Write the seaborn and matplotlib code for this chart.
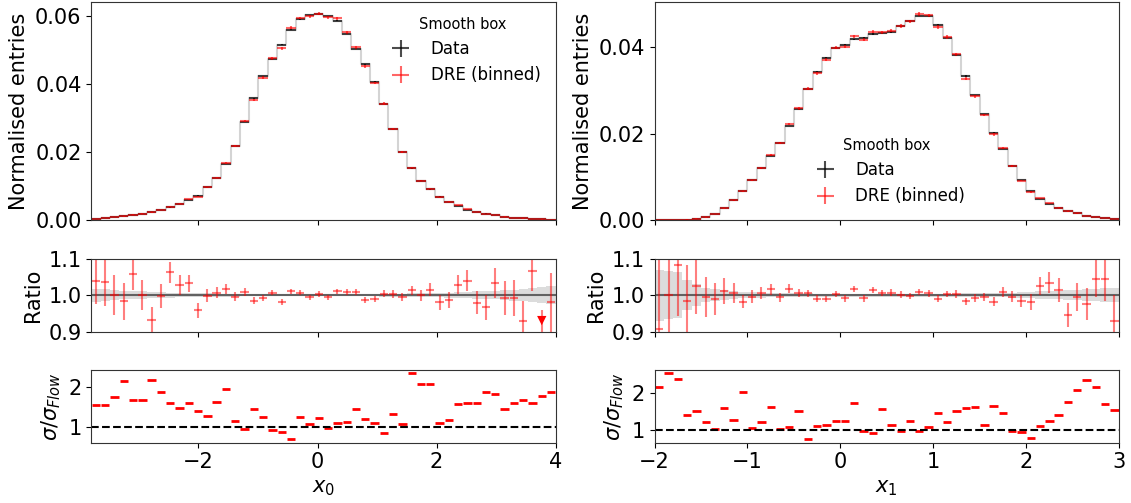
import numpy as np
import matplotlib
matplotlib.use("Agg")
import matplotlib.pyplot as plt
import seaborn as sns

# ----------------------------
# binning (50 bins per variable)
# ----------------------------
x0_range = (-3.8, 4.0)
x1_range = (-2.0, 3.0)
n_bins = 50

# ----------------------------
# x0 : normalised histogram, ratio DRE/data, sigma ratio
# ----------------------------
x0_data = [0.0004, 0.0006, 0.0009, 0.0012, 0.0016, 0.0020, 0.0025, 0.0031, 0.0038, 0.0047,
           0.0060, 0.0073, 0.0097, 0.0125, 0.0166, 0.0219, 0.0289, 0.0359, 0.0423, 0.0473,
           0.0516, 0.0560, 0.0591, 0.0603, 0.0606, 0.0600, 0.0587, 0.0548, 0.0504, 0.0459,
           0.0408, 0.0342, 0.0268, 0.0201, 0.0153, 0.0117, 0.0091, 0.0070, 0.0055, 0.0043,
           0.0031, 0.0025, 0.0020, 0.0015, 0.0011, 0.0008, 0.0006, 0.0004, 0.0003, 0.0002]
x0_data_relerr = [0.018, 0.016, 0.014, 0.012, 0.011, 0.010, 0.009, 0.008, 0.007, 0.006,
                  0.006, 0.005, 0.005, 0.004, 0.004, 0.004, 0.003, 0.003, 0.003, 0.003,
                  0.003, 0.003, 0.003, 0.003, 0.003, 0.003, 0.003, 0.003, 0.003, 0.003,
                  0.003, 0.004, 0.004, 0.004, 0.005, 0.005, 0.006, 0.006, 0.007, 0.008,
                  0.009, 0.010, 0.011, 0.012, 0.014, 0.015, 0.017, 0.019, 0.021, 0.024]
x0_ratio = [1.040, 1.035, 1.001, 0.983, 1.057, 1.000, 0.932, 0.997, 1.062, 1.028,
            1.032, 0.958, 0.998, 1.007, 1.017, 0.996, 1.009, 0.985, 0.992, 1.007,
            0.981, 1.011, 1.006, 0.994, 1.003, 0.994, 1.011, 1.008, 1.009, 0.987,
            0.989, 1.004, 1.002, 0.995, 1.013, 1.000, 1.015, 0.980, 0.987, 1.029,
            1.040, 0.979, 0.966, 1.033, 0.992, 0.992, 0.928, 1.066, 0.880, 0.980]
x0_ratio_err = [0.064, 0.066, 0.055, 0.050, 0.042, 0.041, 0.035, 0.033, 0.030, 0.028,
                0.024, 0.020, 0.018, 0.016, 0.014, 0.012, 0.011, 0.010, 0.009, 0.008,
                0.008, 0.007, 0.007, 0.007, 0.007, 0.007, 0.007, 0.008, 0.008, 0.009,
                0.009, 0.010, 0.011, 0.012, 0.013, 0.015, 0.017, 0.020, 0.022, 0.025,
                0.030, 0.032, 0.033, 0.041, 0.046, 0.050, 0.055, 0.055, 0.080, 0.080]
x0_sigma = [1.54, 1.55, 1.74, 2.15, 1.67, 1.66, 2.17, 1.86, 1.60, 1.47,
            1.59, 1.40, 1.28, 1.61, 1.94, 1.14, 0.94, 1.45, 1.24, 0.92,
            0.88, 0.69, 1.24, 1.07, 1.22, 0.97, 1.10, 1.12, 1.45, 1.20,
            1.11, 0.86, 1.31, 1.07, 2.34, 2.07, 2.07, 1.09, 1.18, 1.57,
            1.60, 1.60, 1.88, 1.82, 1.44, 1.60, 1.67, 1.60, 1.78, 1.88]

# ----------------------------
# x1
# ----------------------------
x1_data = [0.0001, 0.0001, 0.0001, 0.0002, 0.0004, 0.0007, 0.0015, 0.0028, 0.0046, 0.0068,
           0.0093, 0.0120, 0.0149, 0.0179, 0.0218, 0.0257, 0.0303, 0.0343, 0.0375, 0.0398,
           0.0405, 0.0418, 0.0421, 0.0430, 0.0432, 0.0435, 0.0448, 0.0461, 0.0473, 0.0471,
           0.0451, 0.0422, 0.0382, 0.0333, 0.0289, 0.0245, 0.0202, 0.0166, 0.0126, 0.0093,
           0.0067, 0.0050, 0.0038, 0.0029, 0.0022, 0.0016, 0.0011, 0.0008, 0.0005, 0.0004]
x1_data_relerr = [0.070, 0.066, 0.062, 0.042, 0.030, 0.020, 0.016, 0.013, 0.011, 0.009,
                  0.008, 0.007, 0.006, 0.006, 0.005, 0.005, 0.005, 0.004, 0.004, 0.004,
                  0.004, 0.004, 0.004, 0.004, 0.004, 0.004, 0.004, 0.004, 0.004, 0.004,
                  0.004, 0.004, 0.004, 0.005, 0.005, 0.005, 0.006, 0.006, 0.007, 0.008,
                  0.009, 0.010, 0.011, 0.012, 0.013, 0.014, 0.016, 0.017, 0.019, 0.020]
x1_ratio = [0.907, 1.000, 1.082, 0.983, 1.024, 0.994, 0.989, 1.011, 1.005, 0.982,
            0.995, 1.005, 1.016, 0.994, 1.018, 1.006, 1.005, 0.990, 0.989, 1.003,
            0.991, 1.017, 0.991, 1.014, 1.006, 1.007, 1.001, 0.997, 1.008, 1.005,
            0.990, 1.003, 1.003, 0.983, 0.993, 0.995, 0.982, 1.009, 0.995, 0.983,
            0.980, 1.024, 1.034, 1.014, 0.945, 0.995, 0.976, 1.045, 1.043, 0.929]
x1_ratio_err = [0.200, 0.160, 0.140, 0.100, 0.077, 0.055, 0.045, 0.035, 0.027, 0.018,
                0.018, 0.016, 0.015, 0.013, 0.012, 0.011, 0.010, 0.010, 0.009, 0.009,
                0.009, 0.009, 0.009, 0.009, 0.009, 0.009, 0.009, 0.009, 0.009, 0.009,
                0.009, 0.009, 0.010, 0.010, 0.011, 0.011, 0.012, 0.013, 0.015, 0.017,
                0.022, 0.025, 0.028, 0.032, 0.033, 0.039, 0.044, 0.050, 0.059, 0.070]
x1_sigma = [2.19, 2.56, 2.39, 1.40, 1.50, 1.20, 1.02, 1.59, 1.27, 2.03,
            1.05, 1.20, 1.62, 1.03, 1.08, 1.50, 0.73, 1.09, 1.12, 1.25,
            1.23, 1.73, 0.97, 0.91, 1.58, 1.14, 0.95, 1.23, 0.97, 1.08,
            1.46, 1.20, 1.52, 1.60, 1.63, 1.14, 1.64, 1.45, 0.95, 0.92,
            0.78, 1.09, 1.24, 1.41, 1.77, 2.10, 2.37, 2.18, 1.71, 1.53]

variables = [
    ("$x_0$", x0_range, x0_data, x0_data_relerr, x0_ratio, x0_ratio_err, x0_sigma,
     [-2, 0, 2, 4], "upper right"),
    ("$x_1$", x1_range, x1_data, x1_data_relerr, x1_ratio, x1_ratio_err, x1_sigma,
     [-2, -1, 0, 1, 2, 3], "lower center"),
]

sns.set_style("ticks")
plt.rcParams["font.family"] = ["DejaVu Sans"]
for key in ("text.color", "axes.labelcolor", "xtick.color", "ytick.color", "axes.edgecolor"):
    plt.rcParams[key] = "black"

fig = plt.figure(figsize=(11.31, 5.03), dpi=100)
gs = fig.add_gridspec(3, 2, height_ratios=[3, 1, 1], hspace=0.315, wspace=0.213,
                      left=0.0807, right=0.9894, top=0.9966, bottom=0.1199)

FS = 15
for col, (xlabel, xr, data, relerr, ratio, ratio_err, sigma, xticks, leg_loc) in enumerate(variables):
    edges = np.linspace(xr[0], xr[1], n_bins + 1)
    centers = 0.5 * (edges[1:] + edges[:-1])
    bw = edges[1] - edges[0]
    data = np.array(data)
    relerr = np.array(relerr)
    ratio = np.array(ratio)
    ratio_err = np.array(ratio_err)
    dre = data * ratio

    ax_h = fig.add_subplot(gs[0, col])
    ax_r = fig.add_subplot(gs[1, col], sharex=ax_h)
    ax_s = fig.add_subplot(gs[2, col], sharex=ax_h)

    # --- main histogram
    sns.histplot(x=centers, weights=data, bins=list(edges), element="step", fill=False,
                 color="#d4d4d4", linewidth=1.5, ax=ax_h)
    ax_h.errorbar(centers, data, xerr=bw / 2, yerr=data * relerr, fmt="none",
                  ecolor="black", alpha=0.7, lw=1.5, label="Data")
    ax_h.errorbar(centers, dre, xerr=bw / 2, yerr=data * ratio_err, fmt="none",
                  ecolor="red", alpha=0.6, lw=1.5, label="DRE (binned)")
    ax_h.set_ylim(bottom=0)
    ax_h.set_ylabel("Normalised entries", fontsize=FS)
    ax_h.set_xlabel("")
    ax_h.tick_params(labelbottom=False, labelsize=FS)
    ax_h.legend(title="Smooth box", loc=leg_loc, fontsize=12, title_fontsize=10.5,
                frameon=False)

    # --- ratio panel
    band_lo = np.append(1 - relerr, 1 - relerr[-1])
    band_hi = np.append(1 + relerr, 1 + relerr[-1])
    ax_r.fill_between(edges, band_lo, band_hi, step="post", color="#dcdcdc", lw=0)
    ax_r.axhline(1.0, color="#555555", lw=1.5, alpha=0.9)
    ax_r.errorbar(centers, ratio, xerr=bw * 0.45, yerr=ratio_err, fmt="none",
                  ecolor="red", alpha=0.5, lw=1.5)
    low = ratio < 0.9
    if low.any():
        sns.scatterplot(x=centers[low], y=np.full(low.sum(), 0.93), marker="v",
                        color="red", s=45, edgecolor="none", ax=ax_r)
    ax_r.set_ylim(0.9, 1.1)
    ax_r.set_yticks([0.9, 1.0, 1.1])
    ax_r.set_ylabel("Ratio", fontsize=FS)
    ax_r.tick_params(labelbottom=False, labelsize=FS)

    # --- sigma ratio panel
    ax_s.errorbar(centers, sigma, xerr=bw * 0.45, fmt="none", ecolor="red", lw=2)
    ax_s.axhline(1.0, color="black", ls="--", lw=1.5)
    ax_s.set_yticks([1, 2])
    ax_s.set_ylabel(r"$\sigma/\sigma_{Flow}$", fontsize=FS)
    ax_s.set_xlabel(xlabel, fontsize=FS)
    ax_s.tick_params(labelsize=FS)

    ax_s.set_xlim(xr)
    ax_s.set_xticks(xticks)
    for ax in (ax_h, ax_r, ax_s):
        for sp in ax.spines.values():
            sp.set_visible(True)
            sp.set_color("#333333")

fig.savefig("out.png", dpi=100)
